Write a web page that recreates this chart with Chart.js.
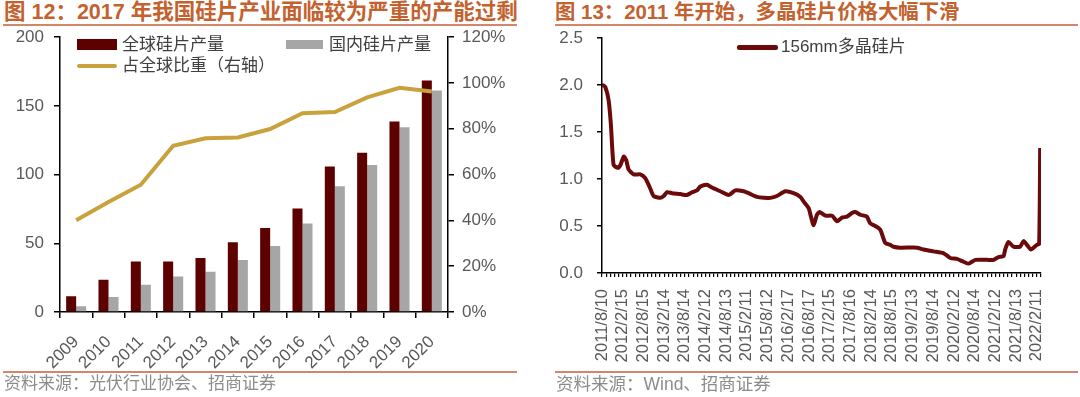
<!DOCTYPE html>
<html lang="zh">
<head>
  <meta charset="UTF-8" />
  <title>硅片产能与价格</title>
  <script src="https://cdn.jsdelivr.net/npm/chart.js"></script>
  <style>
    body {
      margin: 0;
      width: 1080px;
      height: 397px;
      background: #fff;
      position: relative;
      overflow: hidden;
      font-family: "Liberation Sans", Arial, "Noto Sans CJK SC", sans-serif;
    }
    .title {
      position: absolute;
      top: 0;
      font-size: 21px;
      font-weight: bold;
      color: #C3622E;
      line-height: 24px;
      white-space: nowrap;
    }
    .rule {
      position: absolute;
      height: 2px;
      background: #D3866A;
    }
    .source {
      position: absolute;
      top: 374px;
      font-size: 17px;
      color: #8C8C8C;
      line-height: 20px;
      white-space: nowrap;
      font-family: "Liberation Sans", "Noto Sans CJK SC", sans-serif;
    }
    .box {
      position: absolute;
    }
    .legend {
      position: absolute;
      font-size: 17px;
      color: #404040;
      line-height: 20px;
      white-space: nowrap;
      font-family: "Liberation Sans", "Noto Sans CJK SC", sans-serif;
    }
    .sw {
      position: absolute;
    }
  </style>
</head>
<body>
  <!-- left: capacity -->
  <div class="title" style="left:4px; font-size:21.5px;">图 12：2017 年我国硅片产业面临较为严重的产能过剩</div>
  <div class="rule" style="left:3px; width:514px; top:24px;"></div>
  <div class="box" style="left:0; top:17px; width:540px; height:355px;"><canvas id="capChart"></canvas></div>
  <div class="rule" style="left:3px; width:514px; top:371px;"></div>
  <div class="source" style="left:4px;">资料来源：光伏行业协会、招商证券</div>

  <div class="sw" style="left:77px; top:39px; width:40px; height:11px; background:#5C0000;"></div>
  <div class="legend" style="left:122px; top:35px;">全球硅片产量</div>
  <div class="sw" style="left:286px; top:40px; width:37px; height:9px; background:#A6A6A6;"></div>
  <div class="legend" style="left:329px; top:35px;">国内硅片产量</div>
  <div class="sw" style="left:77px; top:64px; width:40px; height:4px; border-radius:2px; background:#C8A23C;"></div>
  <div class="legend" style="left:122px; top:56px;">占全球比重（右轴）</div>

  <!-- right: price -->
  <div class="title" style="left:555px; font-size:20.4px;">图 13：2011 年开始，多晶硅片价格大幅下滑</div>
  <div class="rule" style="left:555px; width:523px; top:24px;"></div>
  <div class="box" style="left:545px; top:14px; width:535px; height:358px;"><canvas id="priceChart"></canvas></div>
  <div class="rule" style="left:555px; width:523px; top:371px;"></div>
  <div class="source" style="left:556px; font-size:17.5px;">资料来源：Wind、招商证券</div>

  <div class="sw" style="left:737px; top:45px; width:41px; height:5px; border-radius:2px; background:#6B0A0A;"></div>
  <div class="legend" style="left:781px; top:37px;">156mm多晶硅片</div>

  <script>
    // 图12 数据
    const years = ['2009', '2010', '2011', '2012', '2013', '2014', '2015', '2016', '2017', '2018', '2019', '2020'];
    const globalOutput = [11.4, 23.5, 36.8, 36.8, 39.3, 50.7, 61.1, 75.4, 105.9, 115.9, 138.7, 168.5];
    const domesticOutput = [4.1, 10.9, 19.9, 25.9, 29.3, 37.8, 48.0, 64.5, 91.6, 106.9, 134.5, 161.2];
    const globalShare = [40.1, 48.0, 55.6, 72.6, 75.9, 76.2, 79.9, 86.8, 87.3, 93.7, 97.9, 96.3];

    // 图13 数据 (x = 半年刻度序号)
    const dateLabels = ['2011/8/10', '2012/2/15', '2012/8/15', '2013/2/14', '2013/8/14', '2014/2/12',
      '2014/8/13', '2015/2/11', '2015/8/12', '2016/2/17', '2016/8/17', '2017/2/15', '2017/8/16',
      '2018/2/14', '2018/8/15', '2019/2/13', '2019/8/14', '2020/2/12', '2020/8/14', '2021/2/12',
      '2021/8/13', '2022/2/11'];
    const priceIdx = [0.0, 0.05, 0.16, 0.32, 0.43, 0.56, 0.76, 0.89, 1.05, 1.17, 1.29, 1.53, 1.85, 2.09,
      2.33, 2.49, 2.82, 2.98, 3.14, 3.38, 3.78, 4.10, 4.35, 4.59, 4.75, 5.07, 5.31, 5.71, 6.12, 6.44,
      6.84, 7.08, 7.48, 7.81, 8.13, 8.45, 8.85, 9.25, 9.58, 9.74, 9.98, 10.09, 10.22, 10.38, 10.51,
      10.79, 11.11, 11.35, 11.59, 11.83, 12.07, 12.23, 12.47, 12.79, 12.95, 13.20, 13.44, 13.68,
      13.92, 14.08, 14.40, 15.21, 15.53, 16.01, 16.50, 16.82, 17.14, 17.46, 17.70, 18.03, 18.59,
      18.91, 19.15, 19.39, 19.47, 19.63, 19.87, 20.19, 20.36, 20.52, 20.71, 21.0, 21.11, 21.16];
    const price = [2.00, 2.00, 1.98, 1.84, 1.58, 1.15, 1.12, 1.15, 1.24, 1.20, 1.10, 1.05, 1.05, 1.01,
      0.90, 0.82, 0.80, 0.82, 0.86, 0.85, 0.84, 0.83, 0.86, 0.88, 0.92, 0.94, 0.91, 0.87, 0.83, 0.88,
      0.87, 0.85, 0.81, 0.80, 0.80, 0.82, 0.87, 0.85, 0.81, 0.76, 0.69, 0.60, 0.51, 0.62, 0.65,
      0.61, 0.61, 0.55, 0.59, 0.60, 0.64, 0.65, 0.62, 0.60, 0.53, 0.50, 0.46, 0.32,
      0.30, 0.28, 0.27, 0.27, 0.25, 0.23, 0.21, 0.16, 0.15, 0.12, 0.10, 0.14, 0.14,
      0.14, 0.17, 0.18, 0.25, 0.33, 0.28, 0.28, 0.34, 0.30, 0.25, 0.30, 0.31, 1.33];

    const axisColor = '#000';
    const tickColor = '#595959';
    const numFont = { family: '"Liberation Sans", Arial, sans-serif', size: 17 };

    new Chart(document.getElementById('capChart'), {
      data: {
        labels: years,
        datasets: [
          {
            type: 'line',
            label: '占全球比重（右轴）',
            data: globalShare,
            yAxisID: 'y1',
            borderColor: '#C8A23C',
            borderWidth: 4,
            pointRadius: 0,
            tension: 0,
            order: 0
          },
          {
            type: 'bar',
            label: '全球硅片产量',
            data: globalOutput,
            backgroundColor: '#5C0000',
            categoryPercentage: 0.62,
            barPercentage: 1.0,
            order: 1
          },
          {
            type: 'bar',
            label: '国内硅片产量',
            data: domesticOutput,
            backgroundColor: '#A6A6A6',
            categoryPercentage: 0.62,
            barPercentage: 1.0,
            order: 1
          }
        ]
      },
      options: {
        responsive: true,
        maintainAspectRatio: false,
        animation: false,
        layout: { padding: 0 },
        plugins: { legend: { display: false }, tooltip: { enabled: false } },
        scales: {
          x: {
            grid: { offset: true, drawOnChartArea: false, color: axisColor, lineWidth: 1.5, tickLength: 6 },
            border: { color: axisColor, width: 1.5 },
            ticks: { color: tickColor, font: numFont, minRotation: 45, maxRotation: 45, padding: 14, autoSkip: false },
            afterFit: s => { s.height = 60; }
          },
          y: {
            position: 'left',
            min: 0,
            max: 200,
            grid: { drawOnChartArea: false, color: axisColor, lineWidth: 1.5, tickLength: 6 },
            border: { color: axisColor, width: 1.5 },
            ticks: { stepSize: 50, color: tickColor, font: numFont, padding: 10 },
            afterFit: s => { s.width = 60; }
          },
          y1: {
            position: 'right',
            min: 0,
            max: 120,
            grid: { drawOnChartArea: false, color: axisColor, lineWidth: 1.5, tickLength: 6 },
            border: { color: axisColor, width: 1.5 },
            ticks: { stepSize: 20, color: tickColor, font: numFont, padding: 8, callback: v => v + '%' },
            afterFit: s => { s.width = 92; }
          }
        }
      }
    });

    new Chart(document.getElementById('priceChart'), {
      type: 'line',
      data: {
        datasets: [{
          label: '156mm多晶硅片',
          data: priceIdx.map((x, i) => ({ x, y: price[i] })),
          borderColor: '#6B0A0A',
          borderWidth: 4,
          borderJoinStyle: 'round',
          pointRadius: 0,
          tension: 0.2
        }]
      },
      options: {
        responsive: true,
        maintainAspectRatio: false,
        animation: false,
        layout: { padding: { top: 0, left: 0, right: 39, bottom: 0 } },
        plugins: { legend: { display: false }, tooltip: { enabled: false } },
        scales: {
          x: {
            type: 'linear',
            min: 0,
            max: 21.2,
            grid: { drawOnChartArea: false, color: axisColor, lineWidth: 1.2, tickLength: 4 },
            border: { color: axisColor, width: 1.5 },
            ticks: {
              stepSize: 0.2,
              maxTicksLimit: 500,
              autoSkip: false,
              minRotation: 90,
              maxRotation: 90,
              padding: 12,
              color: tickColor,
              font: { ...numFont, size: 16.5 },
              callback: v => {
                const i = Math.round(v);
                return Math.abs(v - i) < 1e-6 && i < dateLabels.length ? dateLabels[i] : '';
              }
            },
            afterFit: s => { s.height = 99; }
          },
          y: {
            min: 0,
            max: 2.5,
            grid: { drawOnChartArea: false, color: axisColor, lineWidth: 1.5, tickLength: 5 },
            border: { color: axisColor, width: 1.5 },
            ticks: { stepSize: 0.5, color: tickColor, font: numFont, padding: 14, callback: v => v.toFixed(1) },
            afterFit: s => { s.width = 57; }
          }
        }
      }
    });
  </script>
</body>
</html>
